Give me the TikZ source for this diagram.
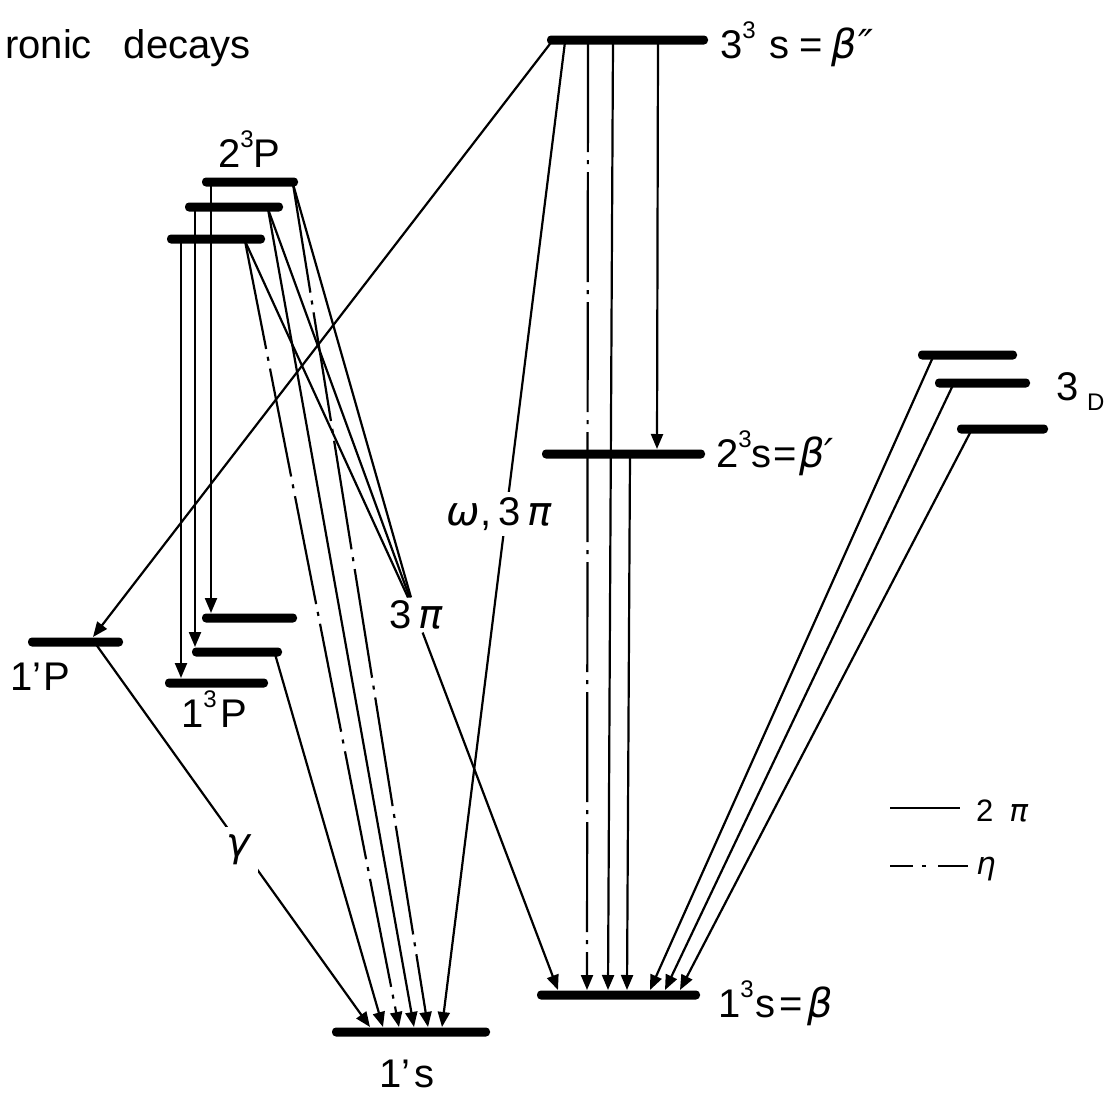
\documentclass[tikz,border=0pt]{standalone}
\usepackage{fontspec}
\setmainfont{Liberation Sans}
\newfontfamily\grk{DejaVu Sans}
\usetikzlibrary{arrows.meta}

\newcommand\lvlsup[1]{\raisebox{0.5em}{\fontsize{24}{24}\selectfont #1}}
\newcommand\gr[1]{{\grk\itshape #1}}

\begin{document}
\begin{tikzpicture}[x=1pt, y=-1pt,
    lev/.style     = {rectangle, fill=black, rounded corners=4pt,
                      inner sep=0pt, minimum height=9pt},
    conn/.style    = {line width=2.2pt, -{Triangle[length=15pt, width=12pt]}},
    plain/.style   = {line width=2.2pt},
    etaconn/.style = {line width=2.2pt,
                      dash pattern=on 110pt off 8pt on 4pt off 8pt,
                      -{Triangle[length=15pt, width=12pt]}},
    lbl/.style     = {font=\fontsize{40}{44}\selectfont, inner sep=0pt,
                      anchor=base west},
    cut/.style     = {font=\fontsize{40}{44}\selectfont, fill=white,
                      inner sep=5pt},
    leg/.style     = {font=\fontsize{31}{34}\selectfont, inner sep=0pt,
                      anchor=base west},
]
\useasboundingbox (0,0) rectangle (1114,1100);

%% ------------------------------------------------------------
%% levels
%% ------------------------------------------------------------
\node[lev, minimum width=161pt] (s33) at (627.5, 40)  {};
\node[lev, minimum width=163pt] (s23) at (623.5, 454) {};
\node[lev, minimum width=163pt] (s13) at (618.5, 995) {};
\node[lev, minimum width=158pt] (s11) at (411,   1032) {};

\node[lev, minimum width=96pt]  (p23a) at (250,   182) {};
\node[lev, minimum width=98pt]  (p23b) at (234,   207) {};
\node[lev, minimum width=98pt]  (p23c) at (216,   239) {};

\node[lev, minimum width=95pt]  (p13a) at (249.5, 618) {};
\node[lev, minimum width=90pt]  (p13b) at (237,   652) {};
\node[lev, minimum width=103pt] (p13c) at (216.5, 683) {};
\node[lev, minimum width=95pt]  (p11)  at (75.5,  642) {};

\node[lev, minimum width=99pt]  (d3a) at (967.5,  355) {};
\node[lev, minimum width=95pt]  (d3b) at (982.5,  383) {};
\node[lev, minimum width=91pt]  (d3c) at (1002.5, 429) {};

%% 3 pi meeting label
\node[font=\fontsize{40}{44}\selectfont, inner sep=3pt] (pi3) at (416, 615)
     {3\,\gr{π}};

%% ------------------------------------------------------------
%% end points on the levels
%% ------------------------------------------------------------
\coordinate (sA) at (553, 40);   \coordinate (tA) at (93,  637);
\coordinate (sW) at (565, 42);   \coordinate (tW) at (442, 1027);
\coordinate (sE) at (588, 42);   \coordinate (tE) at (587, 990);
\coordinate (sB) at (613, 42);   \coordinate (tB) at (608, 990);
\coordinate (sC) at (658, 42);   \coordinate (tC) at (657, 449);
\coordinate (sD) at (630, 456);  \coordinate (tD) at (627, 990);

\coordinate (dA) at (933, 357);  \coordinate (eA) at (650, 990);
\coordinate (dB) at (953, 385);  \coordinate (eB) at (665, 990);
\coordinate (dC) at (971, 431);  \coordinate (eC) at (680, 990);
\coordinate (tPi) at (558, 990);

\coordinate (pa) at (293, 184);  \coordinate (qa) at (428, 1027);
\coordinate (pb) at (268, 209);  \coordinate (qb) at (414, 1027);
\coordinate (pc) at (245, 241);  \coordinate (qc) at (399, 1027);

\coordinate (va) at (211, 184);  \coordinate (wa) at (211, 613);
\coordinate (vb) at (195, 209);  \coordinate (wb) at (195, 647);
\coordinate (vc) at (181, 241);  \coordinate (wc) at (181, 678);

\coordinate (mb) at (275, 654);  \coordinate (nb) at (383, 1027);
\coordinate (gS) at (95,  643);  \coordinate (gT) at (370, 1027);

%% ------------------------------------------------------------
%% transitions
%% ------------------------------------------------------------
\draw[conn]    (sA) -- (tA);
\draw[conn]    (sW) -- (tW);
\draw[etaconn] (sE) -- (tE);
\draw[conn]    (sB) -- (tB);
\draw[conn]    (sC) -- (tC);
\draw[conn]    (sD) -- (tD);

\draw[conn] (dA) -- (eA);
\draw[conn] (dB) -- (eB);
\draw[conn] (dC) -- (eC);

\draw[plain] (pa) -- (pi3);
\draw[plain] (pb) -- (pi3);
\draw[plain] (pc) -- (pi3);
\draw[conn]  (pi3) -- (tPi);

\draw[etaconn] (pa) -- (qa);
\draw[conn]    (pb) -- (qb);
\draw[etaconn] (pc) -- (qc);

\draw[conn] (va) -- (wa);
\draw[conn] (vb) -- (wb);
\draw[conn] (vc) -- (wc);

\draw[conn] (mb) -- (nb);
\draw[conn] (gS) -- (gT);

%% labels cutting the lines
\node[cut] (wlab) at (499, 514) {\gr{ω},\,3\,\gr{π}};
\node[cut, inner sep=8pt] (glab) at (238, 850) {\gr{γ}};

%% ------------------------------------------------------------
%% texts
%% ------------------------------------------------------------
\node[lbl] (title) at (5, 58) {ronic\hspace{32pt}decays};
\node[lbl] (n33s) at (720, 58)
     {3\lvlsup{3}\hspace{14pt}s\hspace{10pt}=\hspace{8pt}\gr{β}\hspace{2pt}\gr{″}};
\node[lbl] (n23s) at (716, 467) {2\lvlsup{3}s\hspace{2pt}=\hspace{2pt}\gr{β}\gr{′}};
\node[lbl] (n13s) at (718, 1017) {1\lvlsup{3}\hspace{2pt}s\hspace{4pt}=\hspace{4pt}\gr{β}};
\node[lbl] (n11s) at (379, 1087) {1'\hspace{4pt}s};
\node[lbl] (n23p) at (218, 167) {2\lvlsup{3}P};
\node[lbl] (n13p) at (181, 727) {1\lvlsup{3}\hspace{4pt}P};
\node[lbl] (n11p) at (10, 690) {1'\hspace{2pt}P};
\node[lbl] (n3d)  at (1056, 400) {3};
\node[leg, font=\fontsize{24}{26}\selectfont] (n3dd) at (1087, 410) {D};

%% ------------------------------------------------------------
%% legend
%% ------------------------------------------------------------
\coordinate (lgA) at (890, 808);  \coordinate (lgB) at (960, 808);
\coordinate (lgC) at (890, 866);  \coordinate (lgD) at (968, 866);
\draw[plain] (lgA) -- (lgB);
\draw[line width=2.2pt, dash pattern=on 23pt off 9pt on 4pt off 12pt on 40pt]
     (lgC) -- (lgD);
\node[leg] (lg2pi) at (976, 821) {2\hspace{16pt}\gr{π}};
\node[leg] (lgeta) at (976, 874) {\gr{η}};

\end{tikzpicture}
\end{document}
